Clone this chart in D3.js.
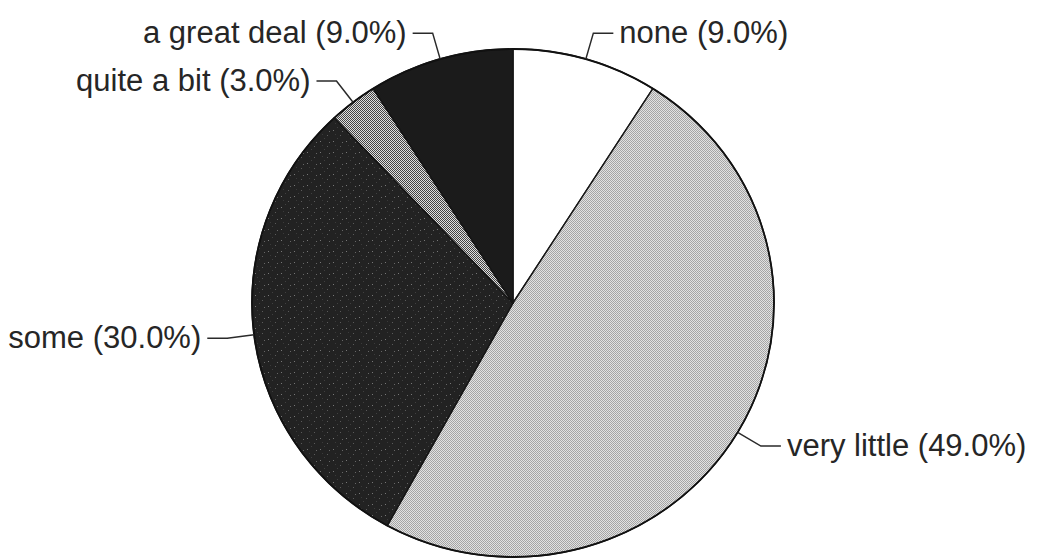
<!DOCTYPE html>
<html>
<head>
<meta charset="utf-8">
<script src="https://cdn.jsdelivr.net/npm/d3@7"></script>
<style>
  html, body { margin: 0; padding: 0; background: #ffffff; }
  svg { display: block; }
  text { font-family: "Liberation Sans", Arial, Helvetica, sans-serif; }
</style>
</head>
<body>
<svg id="chart" width="1040" height="560"></svg>
<script>
// Survey responses, clockwise from 12 o'clock
const categories = ["none", "very little", "some", "quite a bit", "a great deal"];
const percents = [9.0, 49.0, 30.0, 3.0, 9.0];
const fills = ["#ffffff", "url(#dotLight)", "url(#speckDark)", "url(#checkMid)", "#1b1b1b"];

const W = 1040, H = 560;
const cx = 513, cy = 303;      // pie centre
const rx = 261, ry = 254;      // horizontal / vertical radii (slightly oval)
const sx = rx / ry;

const svg = d3.select("#chart");
const defs = svg.append("defs");

// Halftone-style fills; patternTransform undoes the horizontal stretch
function pattern(id, size, bg, dots) {
  const p = defs.append("pattern")
    .attr("id", id)
    .attr("patternUnits", "userSpaceOnUse")
    .attr("width", size[0]).attr("height", size[1])
    .attr("patternTransform", `scale(${1 / sx},1)`);
  p.append("rect").attr("width", size[0]).attr("height", size[1]).attr("fill", bg);
  dots.forEach(([x, y, c]) => p.append("rect").attr("x", x).attr("y", y)
    .attr("width", 1).attr("height", 1).attr("fill", c));
}
pattern("dotLight", [2, 2], "#e2e2e2", [[0, 0, "#a2a2a2"], [1, 1, "#a8a8a8"]]);
pattern("checkMid", [2, 2], "#e0e0e0", [[0, 0, "#444444"], [1, 1, "#444444"]]);
pattern("speckDark", [13, 11], "#222222",
  [[2, 3, "#777777"], [9, 8, "#5a5a5a"], [6, 0, "#404040"], [11, 4, "#666666"], [4, 7, "#3a3a3a"]]);

const pie = d3.pie().sort(null).value(d => d.v);
const arcs = pie(categories.map((c, i) => ({ c, v: percents[i], fill: fills[i] })));
const arc = d3.arc().innerRadius(0).outerRadius(ry);

const g = svg.append("g").attr("transform", `translate(${cx},${cy}) scale(${sx},1)`);

g.selectAll("path.slice")
  .data(arcs)
  .join("path")
  .attr("class", "slice")
  .attr("d", arc)
  .attr("fill", d => d.data.fill)
  .attr("stroke", "#151515")
  .attr("stroke-width", 1.4)
  .attr("vector-effect", "non-scaling-stroke")
  .attr("stroke-linejoin", "round");

// Outer rim
g.append("ellipse")
  .attr("rx", ry).attr("ry", ry)
  .attr("fill", "none")
  .attr("stroke", "#111")
  .attr("stroke-width", 1.8)
  .attr("vector-effect", "non-scaling-stroke");

// Leader lines and labels
const lab = svg.append("g");
const knee = 27, run = 20, gap = 6;
arcs.forEach(d => {
  const a = (d.startAngle + d.endAngle) / 2;
  const px = cx + rx * Math.sin(a), py = cy - ry * Math.cos(a);
  const kx = cx + (rx + knee) * Math.sin(a), ky = cy - (ry + knee) * Math.cos(a);
  const right = a < Math.PI;
  const ex = kx + (right ? run : -run);
  lab.append("path")
    .attr("d", d3.line()([[px, py], [kx, ky], [ex, ky]]))
    .attr("fill", "none")
    .attr("stroke", "#2a2a2a")
    .attr("stroke-width", 1.5);
  lab.append("text")
    .attr("x", ex + (right ? gap : -gap))
    .attr("y", ky + 10)
    .attr("text-anchor", right ? "start" : "end")
    .attr("font-size", 31)
    .attr("fill", "#262626")
    .text(`${d.data.c} (${d.data.v.toFixed(1)}%)`);
});
</script>
</body>
</html>
